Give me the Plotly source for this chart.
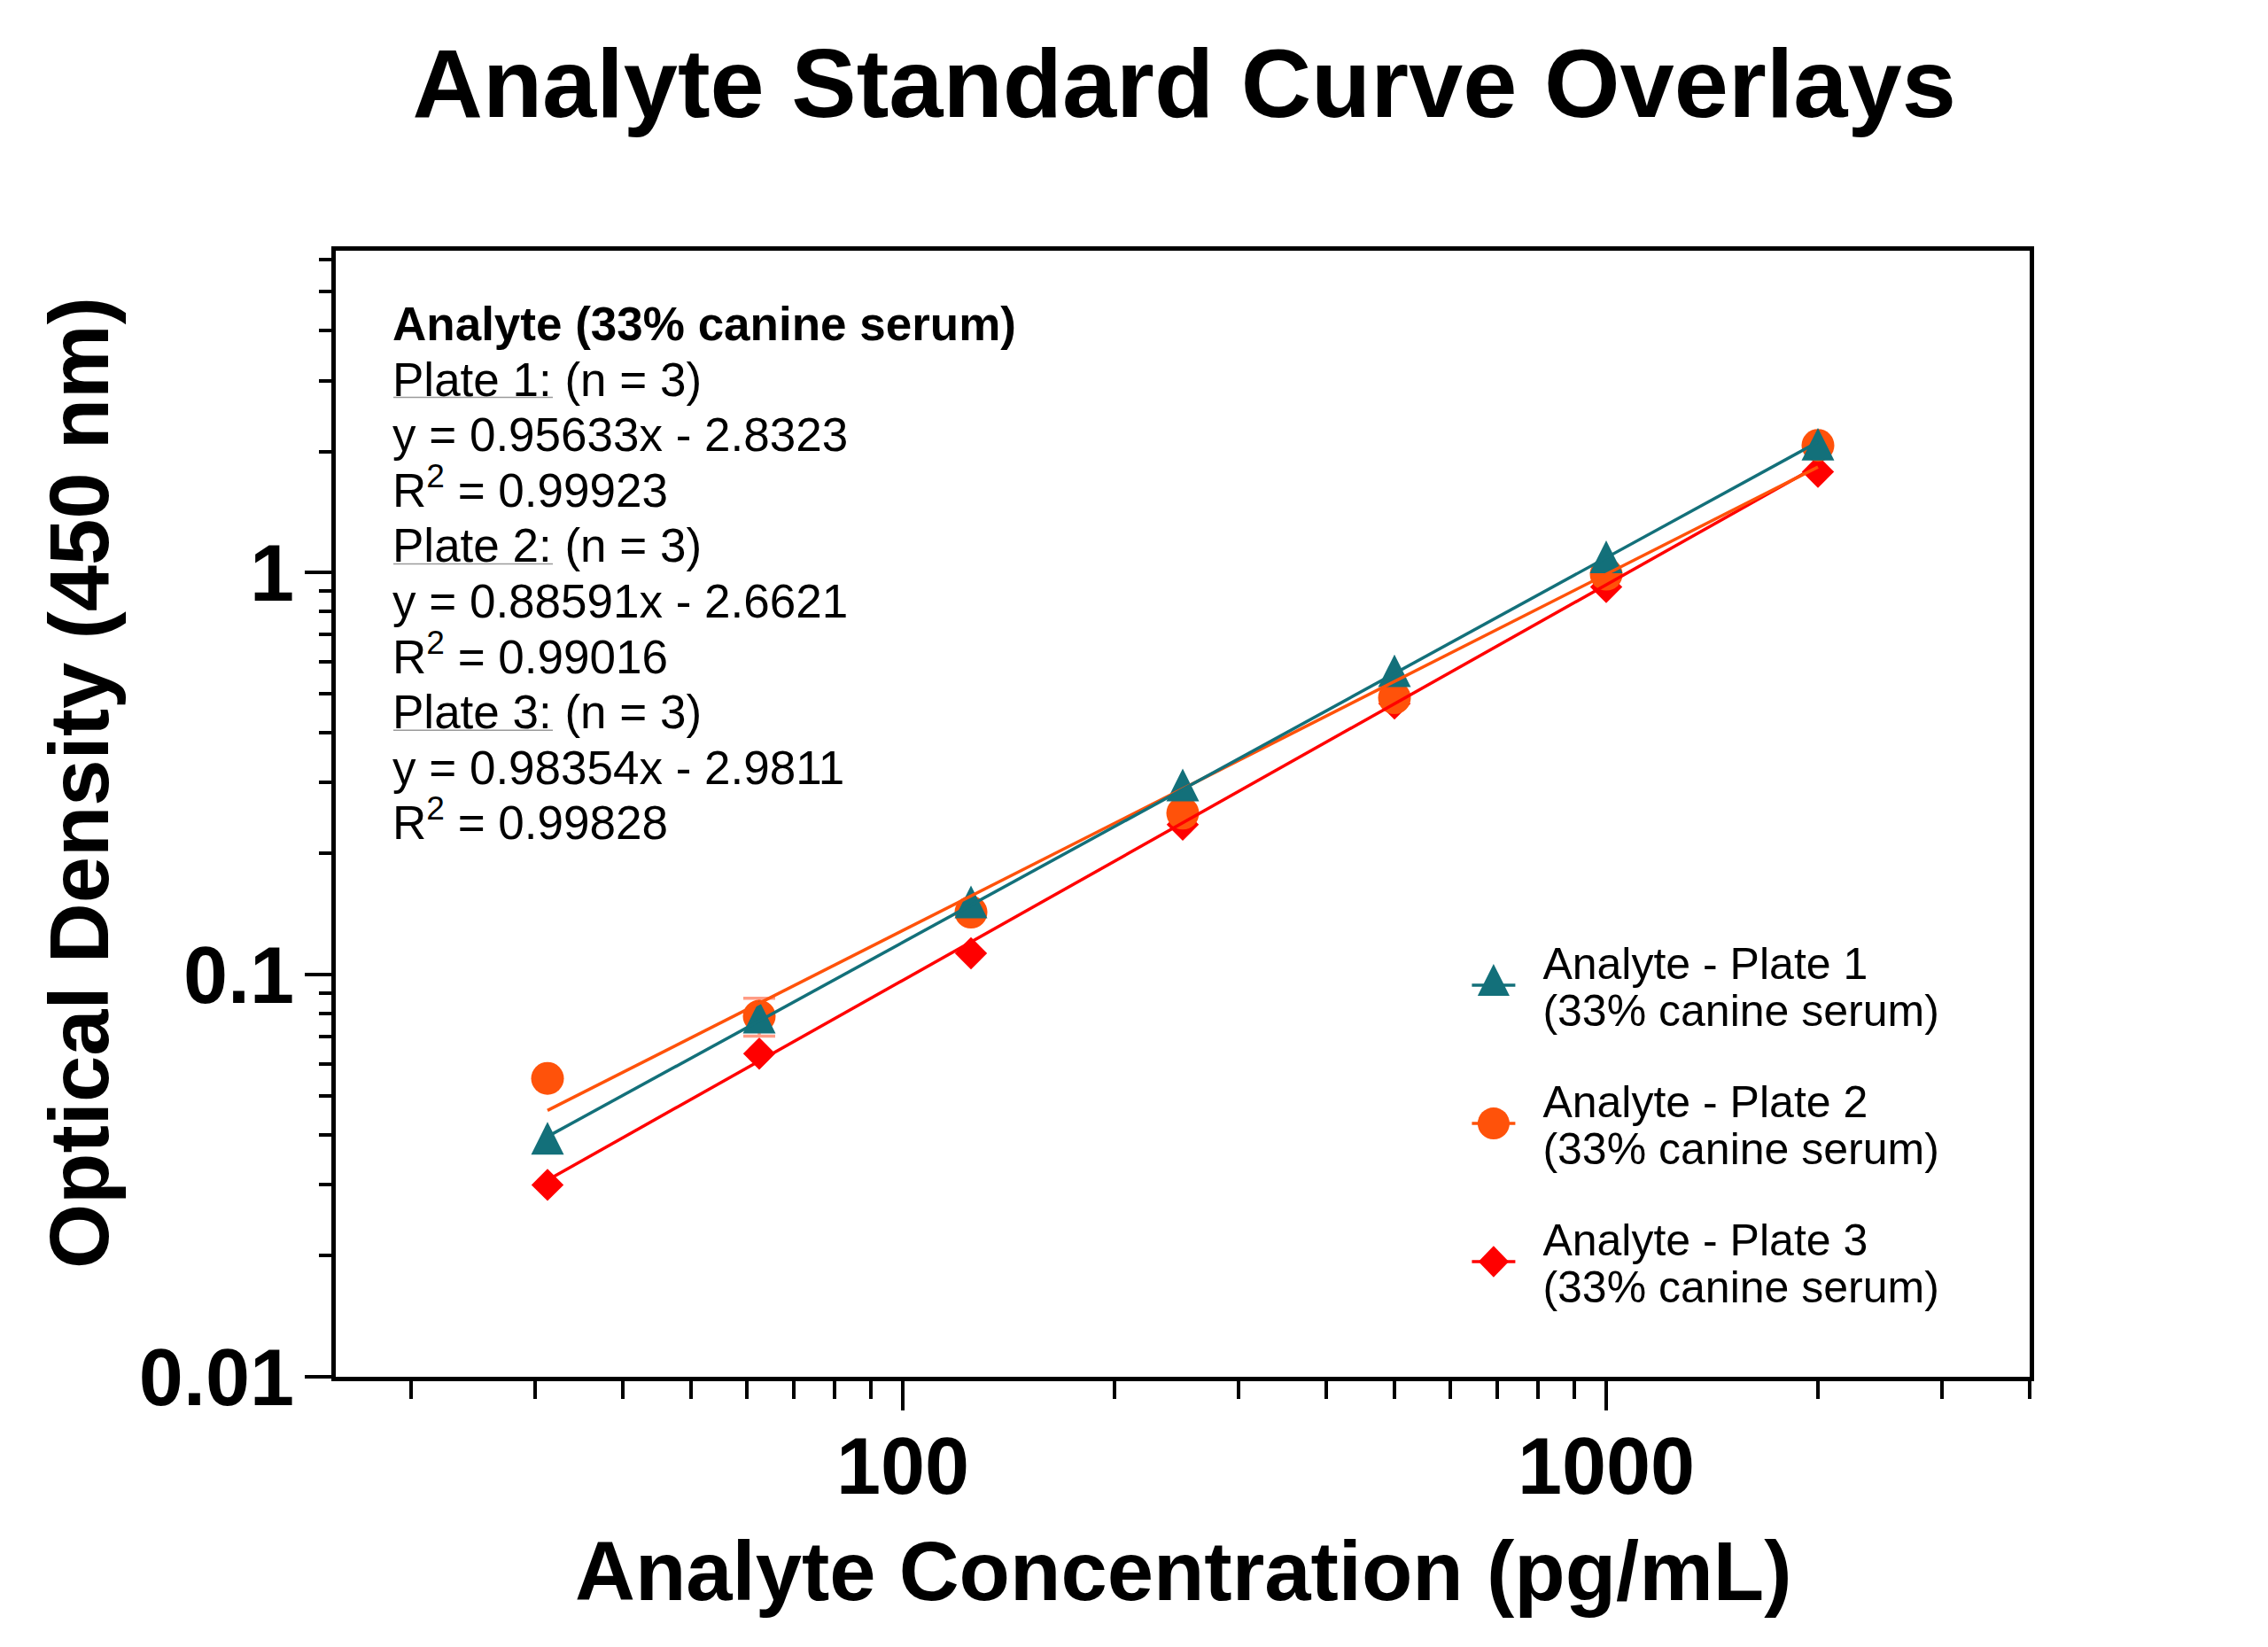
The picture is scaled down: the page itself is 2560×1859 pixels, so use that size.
import numpy as np
import plotly.graph_objects as go

# ---------------- data ----------------
conc = [31.25, 62.5, 125, 250, 500, 1000, 2000]
plate1_od = [0.038, 0.076, 0.147, 0.287, 0.552, 1.06, 2.02]
plate2_od = [0.0552, 0.0788, 0.143, 0.252, 0.488, 0.99, 2.07]
plate3_od = [0.030, 0.0636, 0.113, 0.236, 0.472, 0.92, 1.78]
plate2_err = [0.0, 0.0085, 0.0, 0.0, 0.0, 0.0, 0.0]

plate_names = ["Analyte - Plate 1<br>(33% canine serum)",
               "Analyte - Plate 2<br>(33% canine serum)",
               "Analyte - Plate 3<br>(33% canine serum)"]
fit_slopes = [0.95633, 0.88591, 0.98354]
fit_intercepts = [-2.8323, -2.6621, -2.9811]
fit_r2 = ["0.99923", "0.99016", "0.99828"]
n_reps = [3, 3, 3]

x_tick_vals = [100, 1000]
x_tick_text = ["100", "1000"]
y_tick_vals = [0.01, 0.1, 1]
y_tick_text = ["0.01", "0.1", "1"]

colors = ["#13707a", "#ff520a", "#ff0000"]
symbols = ["triangle-up", "circle", "diamond"]
msizes = [32, 37, 28]
FONT = "Liberation Sans, Arial, sans-serif"

# layout geometry (pixels); page body adds an 8px offset
W, H = 2560, 1859
OFF = 8
ML, MR, MT, MB = 371, 277, 275, 313
PW, PH = W - ML - MR, H - MT - MB


def px_x(xs):
    return (xs - OFF - ML) / PW


def px_y(ys):
    return (H - MB - (ys - OFF)) / PH


fig = go.Figure()

series = [plate1_od, plate2_od, plate3_od]
errs = [None, plate2_err, None]

# markers (plate 3 first so plate 1 sits on top)
for i in [2, 1, 0]:
    err = None
    if errs[i] is not None:
        err = dict(type="data", array=errs[i], visible=True,
                   color="#ff9c85", thickness=3.5, width=18)
    fig.add_trace(go.Scatter(
        x=conc, y=series[i], mode="markers",
        marker=dict(symbol=symbols[i], size=msizes[i], color=colors[i]),
        error_y=err, showlegend=False, hoverinfo="x+y"))

# fit lines (log-log regression)
for i in [2, 1, 0]:
    xf = np.array([conc[0], conc[-1]])
    yf = 10 ** (fit_slopes[i] * np.log10(xf) + fit_intercepts[i])
    fig.add_trace(go.Scatter(
        x=xf, y=yf, mode="lines",
        line=dict(color=colors[i], width=3.5),
        showlegend=False, hoverinfo="skip"))

# legend entries
for i in range(3):
    fig.add_trace(go.Scatter(
        x=[None], y=[None], mode="lines+markers", name=plate_names[i],
        legendgroup=f"g{i}",
        marker=dict(symbol=symbols[i], size=msizes[i], color=colors[i]),
        line=dict(color=colors[i], width=3.5)))

# equation annotation, one line per annotation
lines = ["<b>Analyte (33% canine serum)</b>"]
for i in range(3):
    lines.append(f"Plate {i+1}: (n = {n_reps[i]})")
    lines.append(f"y = {fit_slopes[i]:.5f}x - {abs(fit_intercepts[i]):.4f}")
    lines.append(f"R<sup>2</sup> = {fit_r2[i]}")

TEXT_X = 441
BASE0 = 384
STEP = 62.6
for k, t in enumerate(lines):
    fig.add_annotation(
        text=t, xref="paper", yref="paper",
        x=px_x(TEXT_X), y=px_y(BASE0 + STEP * k + 13),
        xanchor="left", yanchor="bottom", align="left", showarrow=False,
        font=dict(family=FONT, size=53, color="black"))
    if t.startswith("Plate"):
        yb = BASE0 + STEP * k + 2
        fig.add_shape(type="line", xref="paper", yref="paper",
                      x0=px_x(TEXT_X + 3), x1=px_x(TEXT_X + 183),
                      y0=px_y(yb), y1=px_y(yb),
                      line=dict(color="#9a9a9a", width=1.5))

# axis titles
fig.add_annotation(
    text="<b>Optical Density (450 nm)</b>", textangle=-90,
    xref="paper", yref="paper", x=px_x(89), y=px_y(884),
    xanchor="center", yanchor="middle", showarrow=False,
    font=dict(family=FONT, size=94, color="black"))
fig.add_annotation(
    text="<b>Analyte Concentration (pg/mL)</b>",
    xref="paper", yref="paper", x=px_x(1335), y=px_y(1828),
    xanchor="center", yanchor="bottom", showarrow=False,
    font=dict(family=FONT, size=94, color="black"))

x_minor = [d * 10 ** e for e in [1, 2, 3] for d in range(2, 10)]
y_minor = [d * 10 ** e for e in [-2, -1, 0] for d in range(2, 10)]

axis_common = dict(
    type="log", showline=True, linewidth=5, linecolor="black", mirror=True,
    ticks="outside", tickwidth=4, tickcolor="black", showgrid=False,
    zeroline=False, tickmode="array",
    tickfont=dict(family=FONT, size=90, color="black", weight="bold"),
)

fig.update_xaxes(
    **axis_common, range=[np.log10(15.625), np.log10(4000)],
    tickvals=x_tick_vals, ticktext=x_tick_text, ticklen=33,
    ticklabelstandoff=-14,
    minor=dict(tickmode="array", tickvals=x_minor, ticks="outside",
               ticklen=20, tickwidth=3.5, tickcolor="black", showgrid=False))
fig.update_yaxes(
    **axis_common, range=[-2, 0.8],
    tickvals=y_tick_vals, ticktext=y_tick_text, ticklen=30,
    ticklabelstandoff=-6,
    minor=dict(tickmode="array", tickvals=y_minor, ticks="outside",
               ticklen=14, tickwidth=3.5, tickcolor="black", showgrid=False))

fig.update_layout(
    width=W, height=H,
    margin=dict(l=ML, r=MR, t=MT, b=MB, autoexpand=False),
    paper_bgcolor="white", plot_bgcolor="white",
    title=dict(text="<b>Analyte Standard Curve Overlays</b>", x=0.519, xanchor="center",
               y=0.954, yanchor="middle",
               font=dict(family=FONT, size=110, color="black")),
    legend=dict(x=0.6545, y=0.404, xanchor="left", yanchor="top",
                bgcolor="rgba(0,0,0,0)", tracegroupgap=23, itemwidth=101,
                font=dict(family=FONT, size=50, color="black")),
    font=dict(family=FONT, color="black"),
)

# style tweaks: equilateral triangles, larger legend symbols, tighter legend lines
post = r"""
var gd = document.getElementById('{plot_id}');
var sc = [[1.95, 3.0], [2.25, 2.25], [1.65, 1.7]];
gd.querySelectorAll('.legend .traces').forEach(function(t, i){
  var s = sc[i % 3];
  var cx = 20;
  t.querySelectorAll('.legendpoints path.scatterpts').forEach(function(p){
    var tr = p.getAttribute('transform') || '';
    var m = /translate\(([-\d.]+)/.exec(tr);
    if (m) { cx = parseFloat(m[1]); }
    p.setAttribute('transform', tr + ' scale(' + s[0] + ',' + s[1] + ')');
  });
  t.querySelectorAll('.legendlines path').forEach(function(p){
    p.setAttribute('d', 'M' + (cx - 24.5) + ',0h49');
  });
  var txt = t.querySelector('text.legendtext');
  if (txt) {
    txt.querySelectorAll('tspan.line').forEach(function(ts){
      var dy = ts.getAttribute('dy');
      if (dy && dy.indexOf('em') > 0) {
        ts.setAttribute('dy', (parseFloat(dy) * 0.83).toFixed(3) + 'em');
      }
    });
    var tt = txt.getAttribute('transform') || '';
    txt.setAttribute('transform', tt + ' translate(0,5.5)');
  }
});
var trs = gd.querySelectorAll('.scatterlayer .trace');
if (trs.length > 2) {
  trs[2].querySelectorAll('path.point').forEach(function(p){
    var tr = p.getAttribute('transform') || '';
    p.setAttribute('transform', tr + ' scale(1,1.54)');
  });
}
"""

fig.write_html("out.html", post_script=post)
